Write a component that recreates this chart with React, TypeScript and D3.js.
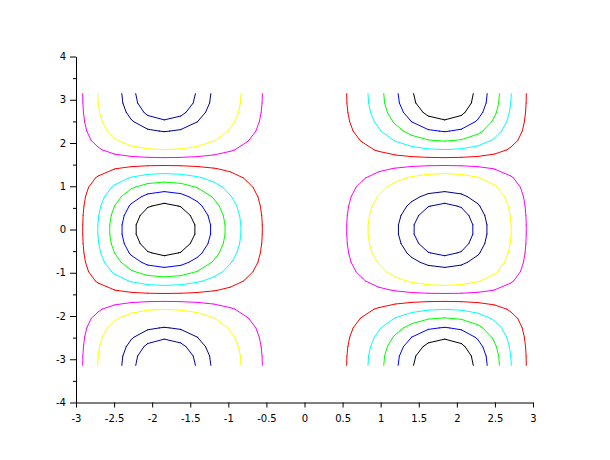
import React, { useEffect, useRef } from "react";
import * as d3 from "d3";

// Surface sampled like the Scilab example: z = x*sin(x)^2*cos(y) on a 30x30 grid over [-pi, pi]
const gridCount = 30;
const nLevels = 10;
const levelColors = ["#000000", "#0000FF", "#00FF00", "#00FFFF", "#FF0000", "#FF00FF", "#FFFF00", "#FFFFFF", "#00008F", "#0000B0"];
const xTicks = [-3, -2.5, -2, -1.5, -1, -0.5, 0, 0.5, 1, 1.5, 2, 2.5, 3];
const yTicks = [-4, -3, -2, -1, 0, 1, 2, 3, 4];
const yMinorTicks = [-3.5, -2.5, -1.5, -0.5, 0.5, 1.5, 2.5, 3.5];
const xDomain = [-3, 3];
const yDomain = [-4, 4];

function surface(x: number, y: number) {
  return x * Math.sin(x) ** 2 * Math.cos(y);
}

export default function App() {
  const ref = useRef<SVGSVGElement>(null);
  useEffect(() => {
    const svg = d3.select(ref.current);
    svg.selectAll("*").remove();
    const xs = d3.range(gridCount).map((i) => -Math.PI + (2 * Math.PI * i) / (gridCount - 1));
    const ys = xs.slice();
    const z = xs.map((x) => ys.map((y) => surface(x, y)));
    const flat = z.flat();
    const zmin = d3.min(flat)!;
    const zmax = d3.max(flat)!;
    const levels = d3.range(1, nLevels + 1).map((k) => zmin + (k * (zmax - zmin)) / (nLevels + 1));

    const xScale = d3.scaleLinear().domain(xDomain).range([76, 533]);
    const yScale = d3.scaleLinear().domain(yDomain).range([402.5, 56.5]);

    const g = svg.append("g");
    levels.forEach((lv, li) => {
      const p = d3.path();
      for (let i = 0; i < gridCount - 1; i++) {
        for (let j = 0; j < gridCount - 1; j++) {
          const c = [
            [xs[i], ys[j], z[i][j]],
            [xs[i + 1], ys[j], z[i + 1][j]],
            [xs[i + 1], ys[j + 1], z[i + 1][j + 1]],
            [xs[i], ys[j + 1], z[i][j + 1]],
          ];
          const pts: [number, number][] = [];
          for (let e = 0; e < 4; e++) {
            const a = c[e], b = c[(e + 1) % 4];
            const va = a[2] - lv, vb = b[2] - lv;
            if ((va < 0 && vb >= 0) || (va >= 0 && vb < 0)) {
              const t = va / (va - vb);
              pts.push([a[0] + t * (b[0] - a[0]), a[1] + t * (b[1] - a[1])]);
            }
          }
          const segs: [number, number][][] = [];
          if (pts.length === 2) segs.push([pts[0], pts[1]]);
          else if (pts.length === 4) {
            const center = (c[0][2] + c[1][2] + c[2][2] + c[3][2]) / 4 - lv;
            const c0 = c[0][2] - lv;
            if ((center >= 0) === (c0 >= 0)) {
              segs.push([pts[0], pts[1]], [pts[2], pts[3]]);
            } else {
              segs.push([pts[0], pts[3]], [pts[1], pts[2]]);
            }
          }
          segs.forEach(([a, b]) => {
            p.moveTo(xScale(a[0]), yScale(a[1]));
            p.lineTo(xScale(b[0]), yScale(b[1]));
          });
        }
      }
      g.append("path")
        .attr("d", p.toString())
        .attr("fill", "none")
        .attr("stroke", levelColors[li])
        .attr("stroke-width", 1)
        .attr("stroke-linecap", "round")
        .attr("stroke-linejoin", "round");
    });

    const fmt = (d: any) => String(d);
    const xAxis = svg
      .append("g")
      .attr("transform", `translate(0,${yScale(-4)})`)
      .call(d3.axisBottom(xScale).tickValues(xTicks).tickSize(5).tickSizeOuter(0).tickPadding(7).tickFormat(fmt));
    const yAxis = svg
      .append("g")
      .attr("transform", `translate(${xScale(-3)},0)`)
      .call(d3.axisLeft(yScale).tickValues(yTicks).tickSize(6).tickSizeOuter(0).tickPadding(4).tickFormat(fmt));
    svg
      .append("g")
      .attr("transform", `translate(${xScale(-3)},0)`)
      .call(d3.axisLeft(yScale).tickValues(yMinorTicks).tickSize(3).tickSizeOuter(0).tickFormat(() => ""));
    svg.selectAll(".domain").attr("stroke", "#000").attr("stroke-width", 1);
    svg.selectAll(".tick line").attr("stroke", "#000").attr("stroke-width", 1);
    [xAxis, yAxis].forEach((a) =>
      a.selectAll("text").attr("font-family", "DejaVu Sans, sans-serif").attr("font-size", 10).attr("fill", "#000")
    );
  }, []);
  return (
    <svg
      ref={ref}
      width={610}
      height={460}
      style={{ position: "absolute", left: 0, top: 0, background: "#fff" }}
    />
  );
}
